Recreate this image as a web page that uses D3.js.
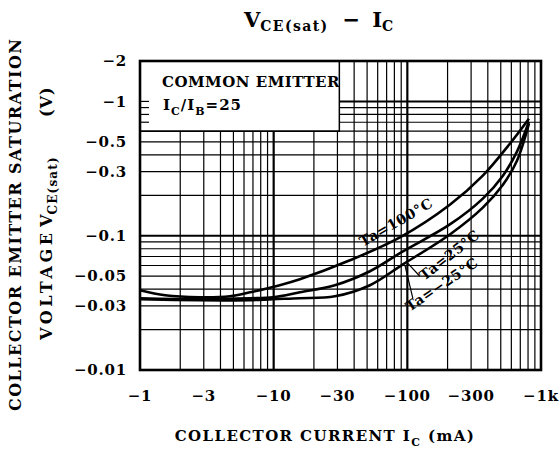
<!DOCTYPE html>
<html>
<head>
<meta charset="utf-8" />
<title>VCE(sat) - IC</title>
<style>
  body { margin: 0; background: #fff; }
  text { font-family: "DejaVu Serif", serif; font-weight: bold; fill: #000; }
</style>
</head>
<body>
<script src="https://d3js.org/d3.v7.min.js"></script>
<script>
// collector current Ic (mA) and Vce(sat) (V)
var icHot   = [-1, -1.54, -2.8, -4.7, -6.65, -11.1, -15.7, -37.2, -88, -208, -367, -585, -812];
var vceHot  = [-0.0393, -0.036, -0.0348, -0.0354, -0.0379, -0.0428, -0.0474, -0.0656, -0.0971, -0.17, -0.28, -0.484, -0.743];
var icLow   = [-1, -2.8, -6.6, -9.9, -15.7, -28.7, -52.5, -92.7, -208, -367, -519, -661, -812];
var vceRoom = [-0.0342, -0.0337, -0.0342, -0.0348, -0.0379, -0.0428, -0.0544, -0.0765, -0.1213, -0.189, -0.28, -0.423, -0.706];
var vceCold = [-0.0337, -0.0331, -0.0331, -0.0337, -0.0342, -0.0354, -0.0428, -0.0612, -0.1022, -0.162, -0.24, -0.362, -0.682];

var xTicks = [-1, -3, -10, -30, -100, -300, -1000];
var xTickLabels = ["\u22121", "\u22123", "\u221210", "\u221230", "\u2212100", "\u2212300", "\u22121k"];
var yTicks = [-2, -1, -0.5, -0.3, -0.1, -0.05, -0.03, -0.01];
var yTickLabels = ["\u22122", "\u22121", "\u22120.5", "\u22120.3", "\u22120.1", "\u22120.05", "\u22120.03", "\u22120.01"];

var curveNames = ["Ta=100\u00b0C", "Ta=25\u00b0C", "Ta=\u221225\u00b0C"];
// label baseline centres in data units [Ic, Vce] and angle
var labelPos = [[-86, -0.1172, -30], [-218, -0.0672, -38], [-190, -0.0405, -34]];

var width = 559, height = 450;
var plot = {left: 140, right: 541, top: 61, bottom: 370};

var svg = d3.select("body").append("svg")
            .attr("width", width)
            .attr("height", height);

var x = d3.scaleLog().domain([-1, -1000]).range([plot.left, plot.right]);
var y = d3.scaleLog().domain([-0.01, -2]).range([plot.bottom, plot.top]);

// log grid
var gridX = [], gridY = [];
[1, 10, 100].forEach(function(d) { for (var k = 2; k < 10; k++) gridX.push(-k * d); });
gridX.push(-10, -100);
[0.01, 0.1, 1].forEach(function(d) { for (var k = 1; k < 10; k++) if (k * d <= 1.5 && k * d > 0.01) gridY.push(-k * d); });

// the note box hides the grid in the upper-left corner
var boxRight = x(-31), boxBottom = y(-0.6);

var grid = svg.append("g").attr("stroke", "#000").attr("fill", "none");

grid.selectAll("line.v")
    .data(gridX)
    .enter().append("line")
    .attr("class", "v")
    .attr("x1", d => x(d)).attr("x2", d => x(d))
    .attr("y1", d => x(d) < boxRight ? boxBottom : plot.top)
    .attr("y2", plot.bottom)
    .attr("stroke-width", d => (d == -10 || d == -100) ? 2.2 : 1.2);

grid.selectAll("line.h")
    .data(gridY)
    .enter().append("line")
    .attr("class", "h")
    .attr("x1", d => y(d) < boxBottom - 0.5 ? boxRight : plot.left)
    .attr("x2", plot.right)
    .attr("y1", d => y(d)).attr("y2", d => y(d))
    .attr("stroke-width", d => (d == -0.1 || d == -1) ? 2 : 1.2);

// short stubs of the hidden lines at the left edge
grid.selectAll("line.stub")
    .data(gridY.filter(d => y(d) < boxBottom - 0.5))
    .enter().append("line")
    .attr("x1", plot.left).attr("x2", plot.left + 9)
    .attr("y1", d => y(d)).attr("y2", d => y(d))
    .attr("stroke-width", 1.2);

// note box border (right and bottom)
svg.append("path")
   .attr("d", "M" + boxRight + "," + plot.top + "V" + boxBottom + "H" + plot.left)
   .attr("fill", "none").attr("stroke", "#000").attr("stroke-width", 1.5);

// frame
svg.append("rect")
   .attr("x", plot.left).attr("y", plot.top)
   .attr("width", plot.right - plot.left).attr("height", plot.bottom - plot.top)
   .attr("fill", "none").attr("stroke", "#000").attr("stroke-width", 2.6);

// curves
var series = [
  {ic: icHot, v: vceHot},
  {ic: icLow, v: vceRoom},
  {ic: icLow, v: vceCold}
];

var line = d3.line()
             .x(d => x(d[0]))
             .y(d => y(d[1]))
             .curve(d3.curveCatmullRom.alpha(0.5));

svg.append("g").selectAll("path")
   .data(series)
   .enter().append("path")
   .attr("d", s => line(s.ic.map((c, i) => [c, s.v[i]])))
   .attr("fill", "none")
   .attr("stroke", "#000")
   .attr("stroke-width", 2.6);

// curve labels
svg.append("g").selectAll("text")
   .data(curveNames)
   .enter().append("text")
   .attr("transform", (d, i) => "translate(" + x(labelPos[i][0]) + "," + y(labelPos[i][1]) + ") rotate(" + labelPos[i][2] + ")")
   .attr("text-anchor", "middle")
   .style("font-size", "14px")
   .style("letter-spacing", "0.6px")
   .text(d => d);

// leader lines from the crossing to the two lower labels
var leaders = [[[-101, -0.0623], [-124, -0.0499]], [[-96, -0.0602], [-110, -0.0342]]];
svg.append("g").selectAll("line")
   .data(leaders)
   .enter().append("line")
   .attr("x1", d => x(d[0][0])).attr("y1", d => y(d[0][1]))
   .attr("x2", d => x(d[1][0])).attr("y2", d => y(d[1][1]))
   .attr("stroke", "#000").attr("stroke-width", 1.2);

// tick labels
svg.append("g").selectAll("text")
   .data(xTicks)
   .enter().append("text")
   .attr("x", d => x(d))
   .attr("y", 401)
   .attr("text-anchor", "middle")
   .style("font-size", "15px")
   .style("letter-spacing", "0.8px")
   .text((d, i) => xTickLabels[i]);

svg.append("g").selectAll("text")
   .data(yTicks)
   .enter().append("text")
   .attr("x", 127)
   .attr("y", d => y(d))
   .attr("dy", "0.35em")
   .attr("text-anchor", "end")
   .style("font-size", "15px")
   .style("letter-spacing", "0.8px")
   .text((d, i) => yTickLabels[i]);

// note text
var note = svg.append("g").style("font-size", "15px");
note.append("text").attr("x", 162).attr("y", 87).style("letter-spacing", "0.5px").text("COMMON EMITTER");
var n2 = note.append("text").attr("x", 163).attr("y", 110).style("letter-spacing", "1px");
n2.append("tspan").text("I");
n2.append("tspan").attr("dy", 5).style("font-size", "11px").text("C");
n2.append("tspan").attr("dy", -5).text("/I");
n2.append("tspan").attr("dy", 5).style("font-size", "11px").text("B");
n2.append("tspan").attr("dy", -5).text("=25");

// title
var title = svg.append("text").attr("x", 244).attr("y", 27);
title.append("tspan").style("font-size", "21px").text("V");
title.append("tspan").attr("dy", 4).style("font-size", "14px").style("letter-spacing", "1.4px").text("CE(sat)");
title.append("tspan").attr("dy", -4).attr("dx", 14).style("font-size", "21px").text("\u2212");
title.append("tspan").attr("dx", 12).style("font-size", "21px").text("I");
title.append("tspan").attr("dy", 4).style("font-size", "14px").text("C");

// x axis title
var xt = svg.append("text").attr("x", 325).attr("y", 441)
            .attr("text-anchor", "middle")
            .style("font-size", "15px").style("letter-spacing", "1.4px");
xt.append("tspan").text("COLLECTOR CURRENT I");
xt.append("tspan").attr("dy", 5).style("font-size", "11px").text("C");
xt.append("tspan").attr("dy", -5).text(" (mA)");

// y axis titles
svg.append("text")
   .attr("transform", "translate(21,225) rotate(-90)")
   .attr("text-anchor", "middle")
   .attr("textLength", 372)
   .attr("lengthAdjust", "spacing")
   .style("font-size", "16px")
   .text("COLLECTOR EMITTER SATURATION");

var yt = svg.append("g").attr("transform", "translate(52,0)");
yt.append("text")
  .attr("transform", "translate(0,340) rotate(-90)")
  .style("font-size", "16px").style("letter-spacing", "3.6px")
  .text("VOLTAGE");
var vce = yt.append("text")
  .attr("transform", "translate(0,227) rotate(-90)")
  .style("font-size", "16px");
vce.append("tspan").text("V");
vce.append("tspan").attr("dy", 5).style("font-size", "12px").style("letter-spacing", "1.2px").text("CE(sat)");
yt.append("text")
  .attr("transform", "translate(0,117) rotate(-90)")
  .style("font-size", "16px").style("letter-spacing", "1px")
  .text("(V)");
</script>
</body>
</html>
